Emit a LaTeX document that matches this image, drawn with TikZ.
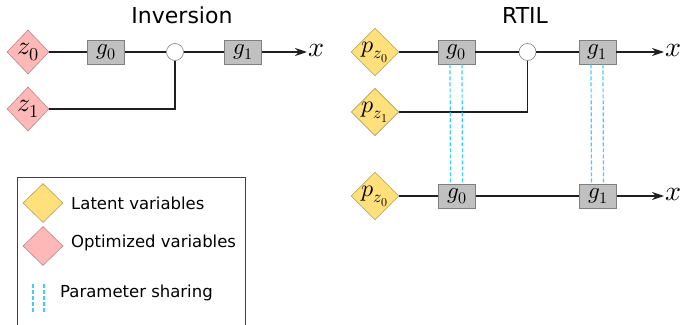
\documentclass[tikz,border=0pt]{standalone}
\usepackage{fontspec}
\usepackage{unicode-math}
\setmainfont{DejaVu Sans}
\setmathfont{Latin Modern Math}
\usetikzlibrary{shapes.geometric,arrows.meta,calc}

\definecolor{optfill}{HTML}{FFB8B8}
\definecolor{optdraw}{HTML}{B88A8A}
\definecolor{latfill}{HTML}{FFE07A}
\definecolor{latdraw}{HTML}{B0A060}
\definecolor{boxfill}{HTML}{C0C0C0}
\definecolor{boxdraw}{HTML}{808080}
\definecolor{sharecol}{HTML}{40CCFF}

\tikzset{
  var/.style={diamond, inner sep=0pt, minimum width=42pt, minimum height=44pt, line width=0.6pt},
  optvar/.style={var, fill=optfill, draw=optdraw},
  latvar/.style={var, fill=latfill, draw=latdraw},
  gen/.style={rectangle, fill=boxfill, draw=boxdraw, line width=0.8pt,
    minimum width=37pt, minimum height=24pt, inner sep=0pt,
    font=\fontsize{23}{23}\selectfont},
  merge/.style={circle, fill=white, draw=boxdraw, line width=0.6pt,
    minimum size=17pt, inner sep=0pt},
  wire/.style={draw=black!88, line width=1.5pt},
  outarrow/.style={wire, -{Stealth[length=12pt,width=8pt]}},
  outlabel/.style={inner sep=1pt, anchor=west, font=\fontsize{28}{28}\selectfont},
  share/.style={draw=sharecol, line width=1.2pt, dash pattern=on 4pt off 2pt},
  title/.style={font=\fontsize{22}{22}\selectfont},
  legtext/.style={anchor=west, inner sep=0pt, font=\fontsize{16.5}{16.5}\selectfont},
  difont/.style={font=\fontsize{26}{26}\selectfont},
  dpfont/.style={font=\fontsize{24}{24}\selectfont}
}

\begin{document}
\begin{tikzpicture}[x=1pt, y=-1pt]
\useasboundingbox (0,0) rectangle (680,324);

% ---------- Inversion ----------
\node[title] (tInv) at (182,15) {Inversion};
\node[optvar, difont] (z0) at (28,52) {$z_0$};
\node[optvar, difont] (z1) at (28,109) {$z_1$};
\node[gen] (ga0) at (106,52) {$g_0$};
\node[merge] (ca) at (175,52) {};
\node[gen] (ga1) at (243,52) {$g_1$};
\node[outlabel] (xa) at (307,50) {$x$};

\draw[wire] (z0) -- (ga0);
\draw[wire] (ga0) -- (ca);
\draw[wire] (ca) -- (ga1);
\draw[outarrow] (ga1) -- (ga1 -| xa.west);
\draw[wire] (z1) -| (ca);

% ---------- RTIL ----------
\node[title] (tRt) at (525,15) {RTIL};
\node[latvar, dpfont] (p0) at (375,52) {$p_{z_0}$};
\node[latvar, dpfont] (p1) at (375,112) {$p_{z_1}$};
\node[gen] (gb0) at (456.5,52) {$g_0$};
\node[merge] (cb) at (527.5,52) {};
\node[gen] (gb1) at (597.5,52) {$g_1$};
\node[outlabel] (xb) at (664,50) {$x$};

\draw[wire] (p0) -- (gb0);
\draw[wire] (gb0) -- (cb);
\draw[wire] (cb) -- (gb1);
\draw[outarrow] (gb1) -- (gb1 -| xb.west);
\draw[wire] (p1) -| (cb);

\node[latvar, dpfont] (p2) at (375,196) {$p_{z_0}$};
\node[gen] (gc0) at (457,196) {$g_0$};
\node[gen] (gc1) at (598,196) {$g_1$};
\node[outlabel] (xc) at (664,194) {$x$};

\draw[wire] (p2) -- (gc0);
\draw[wire] (gc0) -- (gc1);
\draw[outarrow] (gc1) -- (gc1 -| xc.west);

% shared parameters between the two generator chains
\draw[share] ([xshift=-6.5pt]gb0.south) -- ([xshift=-6.5pt]gc0.north);
\draw[share] ([xshift=5.5pt]gb0.south) -- ([xshift=5.5pt]gc0.north);
\draw[share] ([xshift=-6.5pt]gb1.south) -- ([xshift=-6.5pt]gc1.north);
\draw[share] ([xshift=5.5pt]gb1.south) -- ([xshift=5.5pt]gc1.north);

% ---------- Legend ----------
\draw[draw=black!75, line width=0.8pt] (17,177.5) rectangle (245,330);
\node[latvar, minimum width=40pt, minimum height=39pt] (legLat) at (43,203) {};
\node[legtext] (legLatT) at (71,203) {Latent variables};
\node[optvar, minimum width=40pt, minimum height=39pt] (legOpt) at (43,246) {};
\node[legtext] (legOptT) at (71,243) {Optimized variables};
\coordinate (s1a) at (33,284);
\coordinate (s1b) at (33,312);
\coordinate (s2a) at (44,284);
\coordinate (s2b) at (44,312);
\draw[share] (s1a) -- (s1b);
\draw[share] (s2a) -- (s2b);
\node[legtext] (legShT) at (60,293) {Parameter sharing};
\end{tikzpicture}
\end{document}
